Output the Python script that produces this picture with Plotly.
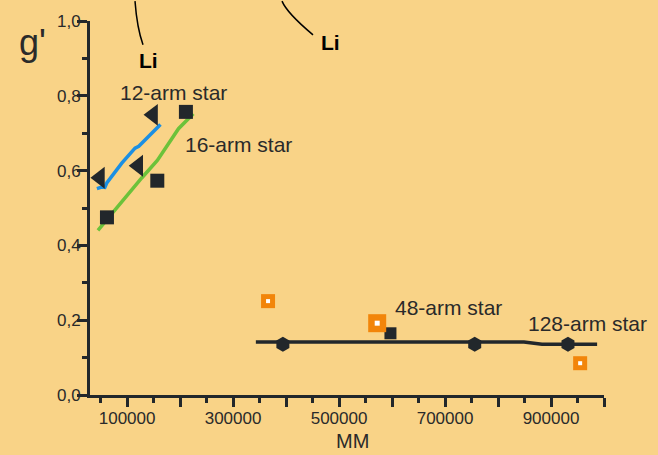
import plotly.graph_objects as go

# ---- data ----
tri_x = [48800, 121000, 149000]
tri_y = [0.581, 0.613, 0.749]

sq_x = [62000, 157000, 211000]
sq_y = [0.475, 0.573, 0.757]

blue_x = [43000, 52000, 58000, 62000, 90000, 115000, 122000, 163000]
blue_y = [0.552, 0.556, 0.555, 0.568, 0.620, 0.660, 0.665, 0.723]

green_x = [45000, 68000, 100000, 128000, 157000, 197000, 225000]
green_y = [0.440, 0.480, 0.535, 0.581, 0.627, 0.712, 0.752]

flat_x = [343000, 849000, 883000, 987000]
flat_y = [0.142, 0.142, 0.136, 0.136]

hex_x = [394000, 756000, 932000]
hex_y = [0.136, 0.136, 0.136]

sq48_x = [597000]
sq48_y = [0.165]

orange_x = [366000, 572000, 955000]
orange_y = [0.251, 0.192, 0.085]
orange_size = [14, 18, 14]

x_tickvals = [100000, 200000, 300000, 400000, 500000, 600000, 700000, 800000, 900000, 1000000]
x_ticktext = ["100000", "", "300000", "", "500000", "", "700000", "", "900000", ""]
y_tickvals = [0.0, 0.2, 0.4, 0.6, 0.8, 1.0]
y_ticktext = ["0,0", "0,2", "0,4", "0,6", "0,8", "1,0"]

labels = [
    ("12-arm star", 173, 90),
    ("16-arm star", 238, 142),
    ("48-arm star", 448, 307),
    ("128-arm star", 587, 323),
]

BG = "#F9D387"
DARK = "#22272b"
FONT = "Liberation Sans, Arial, sans-serif"

W, H = 658, 455
ML, MR, MT, MB = 90, 54, 18, 60

fig = go.Figure()

fig.add_trace(go.Scatter(x=blue_x, y=blue_y, mode="lines",
                         line=dict(color="#1b8fe3", width=3.5), hoverinfo="skip"))
fig.add_trace(go.Scatter(x=green_x, y=green_y, mode="lines",
                         line=dict(color="#6cc23a", width=3.5), hoverinfo="skip"))
fig.add_trace(go.Scatter(x=flat_x, y=flat_y, mode="lines",
                         line=dict(color=DARK, width=3.5), hoverinfo="skip"))

mk = dict(opacity=1, line=dict(width=0))
fig.add_trace(go.Scatter(x=tri_x, y=tri_y, mode="markers", cliponaxis=False,
                         marker=dict(symbol="triangle-left", size=19, color=DARK, **mk)))
fig.add_trace(go.Scatter(x=sq_x, y=sq_y, mode="markers", cliponaxis=False,
                         marker=dict(symbol="square", size=14, color=DARK, **mk)))
fig.add_trace(go.Scatter(x=hex_x, y=hex_y, mode="markers", cliponaxis=False,
                         marker=dict(symbol="hexagon", size=15, color=DARK, **mk)))
fig.add_trace(go.Scatter(x=sq48_x, y=sq48_y, mode="markers", cliponaxis=False,
                         marker=dict(symbol="square", size=12, color=DARK, **mk)))
fig.add_trace(go.Scatter(x=orange_x, y=orange_y, mode="markers", cliponaxis=False,
                         marker=dict(symbol="square", size=orange_size, color="#f2850a", **mk)))
fig.add_trace(go.Scatter(x=orange_x, y=orange_y, mode="markers", cliponaxis=False,
                         marker=dict(symbol="square", size=[4, 5, 4], color="white", **mk)))


def px_x(p):
    return (p - ML) / (W - ML - MR)


def px_y(p):
    return (H - MB - p) / (H - MT - MB)


annotations = []
for txt, cx, cy in labels:
    annotations.append(dict(text=txt, x=px_x(cx), y=px_y(cy), xref="paper", yref="paper",
                            showarrow=False, xanchor="center", yanchor="middle",
                            font=dict(family=FONT, size=21, color="#2a2a2a")))
for cx, cy in [(148, 58), (330, 40)]:
    annotations.append(dict(text="<b>Li</b>", x=px_x(cx), y=px_y(cy), xref="paper", yref="paper",
                            showarrow=False, xanchor="center", yanchor="middle",
                            font=dict(family=FONT, size=21, color="black")))
annotations.append(dict(text="g'", x=px_x(32), y=px_y(40), xref="paper", yref="paper",
                        showarrow=False, xanchor="center", yanchor="middle",
                        font=dict(family=FONT, size=36, color="#2a2a2a")))
annotations.append(dict(text="MM", x=px_x(352), y=px_y(441), xref="paper", yref="paper",
                        showarrow=False, xanchor="center", yanchor="middle",
                        font=dict(family=FONT, size=20, color="#2a2a2a")))

shapes = [
    dict(type="path", xref="paper", yref="paper",
         path=f"M {px_x(135)},{px_y(-2)} Q {px_x(137)},{px_y(25)} {px_x(143)},{px_y(42)}",
         line=dict(color="black", width=1.5)),
    dict(type="path", xref="paper", yref="paper",
         path=f"M {px_x(282)},{px_y(-2)} Q {px_x(287)},{px_y(10)} {px_x(313)},{px_y(32)}",
         line=dict(color="black", width=1.5)),
]

fig.update_layout(
    width=W, height=H,
    margin=dict(l=ML, r=MR, t=MT, b=MB),
    paper_bgcolor=BG, plot_bgcolor=BG,
    showlegend=False,
    annotations=annotations,
    shapes=shapes,
    font=dict(family=FONT, color="#2a2a2a"),
    xaxis=dict(range=[30000, 1000000], showgrid=False, zeroline=False,
               showline=True, linecolor=DARK, linewidth=3,
               ticks="outside", ticklen=9, tickwidth=3, tickcolor=DARK,
               tickvals=x_tickvals, ticktext=x_ticktext, ticklabelstandoff=-3,
               tickfont=dict(family=FONT, size=17, color="#2a2a2a"),
               minor=dict(dtick=50000, tick0=0, ticks="outside", ticklen=5,
                          tickwidth=3, tickcolor=DARK)),
    yaxis=dict(range=[0, 1], showgrid=False, zeroline=False,
               showline=True, linecolor=DARK, linewidth=3,
               ticks="outside", ticklen=10, tickwidth=3, tickcolor=DARK,
               tickvals=y_tickvals, ticktext=y_ticktext, ticklabelstandoff=-7,
               tickfont=dict(family=FONT, size=17, color="#2a2a2a"),
               minor=dict(dtick=0.1, tick0=0, ticks="outside", ticklen=5,
                          tickwidth=3, tickcolor=DARK)),
)

fig.write_html(
    "out.html",
    config={"displayModeBar": False},
    post_script="document.body.style.margin='0';document.body.style.background='" + BG + "';",
)
